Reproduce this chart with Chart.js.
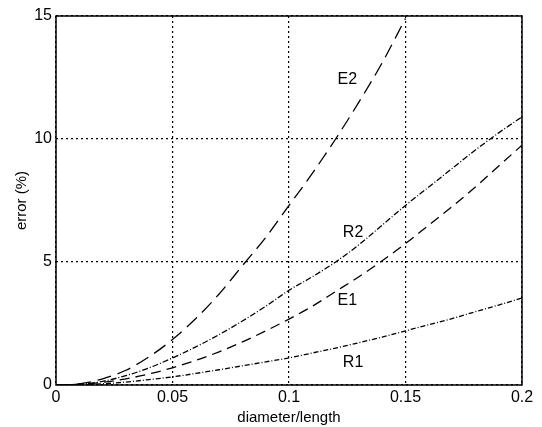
<!DOCTYPE html>
<html>
<head>
<meta charset="utf-8">
<script src="https://cdn.jsdelivr.net/npm/chart.js@4.4.0/dist/chart.umd.min.js"></script>
<style>
  html, body { margin: 0; padding: 0; background: #fff; }
  #wrap { width: 542px; height: 427px; }
</style>
</head>
<body>
<div id="wrap"><canvas id="chart" width="542" height="427"></canvas></div>
<script>
// --- data ---
const ratio = [0, 0.01, 0.02, 0.03, 0.04, 0.05, 0.06, 0.07, 0.08, 0.09, 0.1,
               0.11, 0.12, 0.13, 0.14, 0.15, 0.16, 0.17, 0.18, 0.19, 0.2];
const errE2 = [0, 0.05, 0.25, 0.6, 1.15, 1.85, 2.7, 3.7, 4.85, 6.0, 7.3,
               8.6, 10.0, 11.5, 13.1, 14.9];
const errR2 = [0, 0.03, 0.15, 0.38, 0.7, 1.1, 1.55, 2.05, 2.6, 3.2, 3.85,
               4.4, 5.0, 5.7, 6.5, 7.3, 8.05, 8.8, 9.55, 10.25, 10.9];
const errE1 = [0, 0.03, 0.11, 0.25, 0.45, 0.7, 1.0, 1.35, 1.75, 2.2, 2.68,
               3.2, 3.8, 4.4, 5.05, 5.75, 6.5, 7.25, 8.05, 8.9, 9.75];
const errR1 = [0, 0.01, 0.05, 0.12, 0.22, 0.33, 0.47, 0.62, 0.78, 0.94, 1.1,
               1.3, 1.5, 1.72, 1.95, 2.2, 2.45, 2.7, 2.98, 3.25, 3.54];

// curve labels (text placed in data coords)
const curveLabels = [
  { text: 'E2', x: 0.125, y: 12.4 },
  { text: 'R2', x: 0.1275, y: 6.2 },
  { text: 'E1', x: 0.125, y: 3.45 },
  { text: 'R1', x: 0.1275, y: 0.93 }
];

function pts(ys) {
  return ys.map((y, i) => ({ x: ratio[i], y: y }));
}

function line(label, ys, dash) {
  return {
    label: label,
    data: pts(ys),
    borderColor: '#000',
    borderWidth: 1.3,
    borderDash: dash,
    pointRadius: 0,
    fill: false,
    cubicInterpolationMode: 'monotone'
  };
}

// frame + curve labels
const framePlugin = {
  id: 'frame',
  afterDatasetsDraw(chart) {
    const ctx = chart.ctx;
    const a = chart.chartArea;
    ctx.save();
    ctx.strokeStyle = '#000';
    ctx.lineWidth = 1.5;
    ctx.setLineDash([]);
    ctx.strokeRect(a.left, a.top, a.right - a.left, a.bottom - a.top);
    ctx.fillStyle = '#000';
    ctx.font = '16px "Liberation Sans", Arial, sans-serif';
    ctx.textAlign = 'center';
    ctx.textBaseline = 'middle';
    curveLabels.forEach(l => {
      ctx.fillText(l.text, chart.scales.x.getPixelForValue(l.x), chart.scales.y.getPixelForValue(l.y));
    });
    ctx.restore();
  }
};

const tickFont = { family: '"Liberation Sans", Arial, sans-serif', size: 16 };
const titleFont = { family: '"Liberation Sans", Arial, sans-serif', size: 15 };
const gridOpts = { color: '#000', lineWidth: 1.2, drawTicks: false };
const borderOpts = { display: false, dash: [2, 3] };

new Chart(document.getElementById('chart'), {
  type: 'line',
  data: {
    datasets: [
      line('E2', errE2, [14, 7]),
      line('R2', errR2, [6, 2, 1, 2]),
      line('E1', errE1, [10, 6]),
      line('R1', errR1, [5, 2, 1, 2])
    ]
  },
  options: {
    responsive: false,
    animation: false,
    layout: { padding: { top: 16, right: 20, left: 0, bottom: 0 } },
    plugins: { legend: { display: false }, tooltip: { enabled: false } },
    scales: {
      x: {
        type: 'linear', min: 0, max: 0.2,
        ticks: { stepSize: 0.05, color: '#000', font: tickFont, padding: 3, maxRotation: 0,
                 callback: v => String(+v.toFixed(2)) },
        grid: gridOpts,
        border: borderOpts,
        title: { display: true, text: 'diameter/length', color: '#000', font: titleFont, padding: { top: 0, bottom: 0 } },
        afterFit: s => { s.height = 42; }
      },
      y: {
        min: 0, max: 15,
        ticks: { stepSize: 5, color: '#000', font: tickFont, padding: 4 },
        grid: gridOpts,
        border: borderOpts,
        title: { display: true, text: 'error (%)', color: '#000', font: titleFont, padding: { top: 13, bottom: 0 } },
        afterFit: s => { s.width = 56; }
      }
    }
  },
  plugins: [framePlugin]
});
</script>
</body>
</html>
